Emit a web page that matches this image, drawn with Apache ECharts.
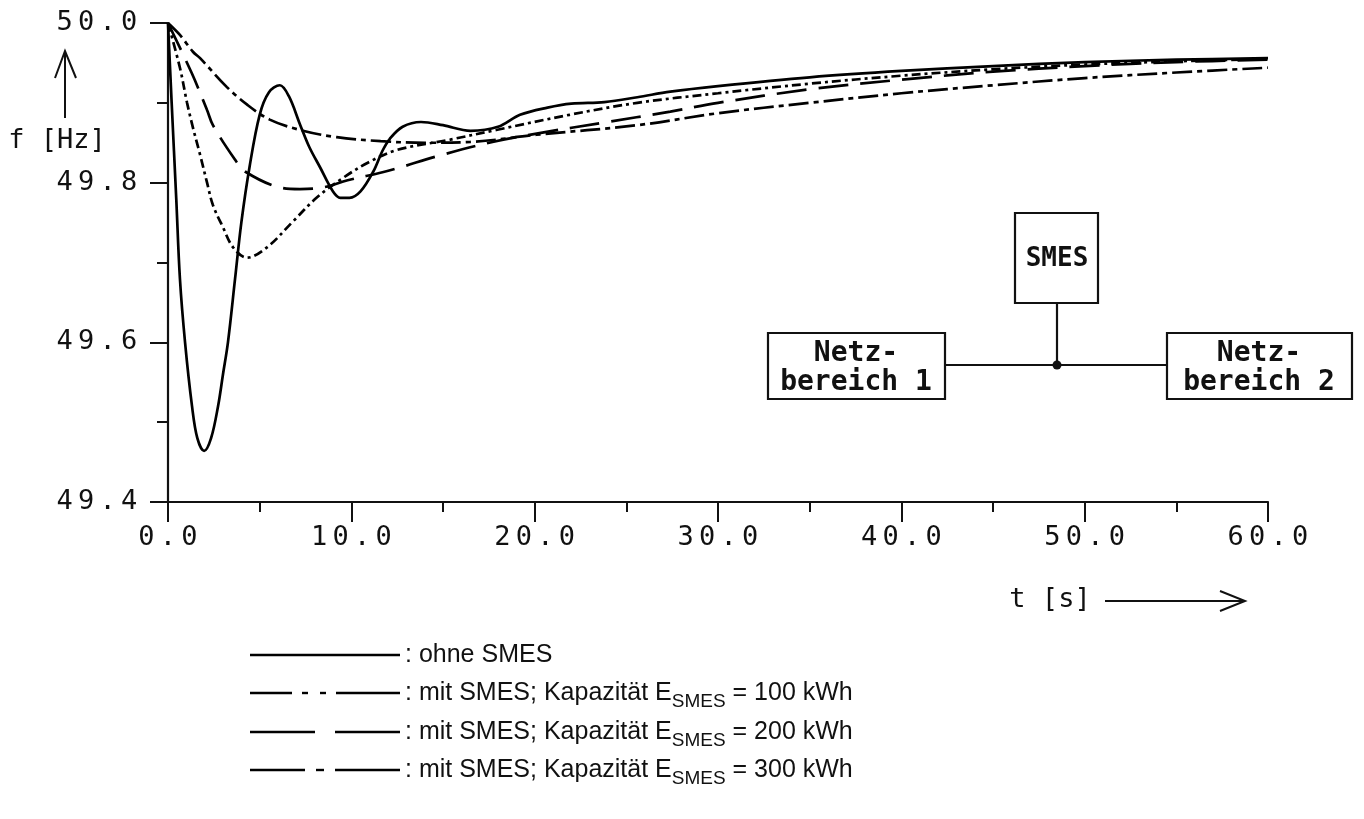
<!DOCTYPE html>
<html><head><meta charset="utf-8">
<script src="https://cdn.jsdelivr.net/npm/echarts@6/dist/echarts.min.js"></script>
<style>html,body{margin:0;padding:0;background:#fff}#c{width:1364px;height:819px}</style>
</head><body><div id="c"></div>
<script>
// ---- data ----
const tOhne = [0, 0.2, 0.45, 0.65, 0.93, 1.31, 1.6, 1.97, 2.35, 2.73, 3.0, 3.27, 3.66, 4.0, 4.45, 5.0, 5.5, 6.1, 6.6, 7.2, 7.7, 8.3, 9.0, 9.4, 9.9, 10.5, 11.2, 11.7, 12.1, 12.8, 13.8, 15.0, 16.5, 18.0, 19.2, 20.7, 22.0, 23.8, 25.6, 27.4, 30, 35, 40, 45, 50, 55, 60];
const fOhne = [50.0, 49.90, 49.78, 49.68, 49.60, 49.52, 49.48, 49.464, 49.48, 49.52, 49.56, 49.60, 49.68, 49.75, 49.82, 49.885, 49.913, 49.922, 49.908, 49.873, 49.845, 49.819, 49.789, 49.781, 49.781, 49.789, 49.814, 49.84, 49.855, 49.87, 49.876, 49.872, 49.865, 49.87, 49.885, 49.894, 49.899, 49.901, 49.907, 49.914, 49.921, 49.932, 49.940, 49.946, 49.951, 49.954, 49.956];

const t100 = [0, 0.65, 1.04, 1.36, 1.75, 2.13, 2.45, 3.0, 3.55, 4.3, 5.4, 6.8, 8.1, 9.55, 10.9, 12.5, 15.4, 17.9, 21.9, 25.6, 30, 35, 40, 45, 50, 55, 60];
const f100 = [50.0, 49.944, 49.90, 49.869, 49.835, 49.80, 49.772, 49.744, 49.719, 49.706, 49.719, 49.751, 49.781, 49.806, 49.825, 49.841, 49.854, 49.866, 49.885, 49.90, 49.912, 49.924, 49.934, 49.942, 49.948, 49.952, 49.955];

const t200 = [0, 1.3, 2.13, 2.45, 3.65, 4.2, 6.1, 7.2, 8.45, 9.8, 11.7, 12.8, 14.5, 17.7, 20.5, 23.7, 27.4, 30, 35, 40, 45, 50, 55, 60];
const f200 = [50.0, 49.937, 49.891, 49.872, 49.829, 49.814, 49.794, 49.792, 49.794, 49.803, 49.813, 49.82, 49.832, 49.851, 49.863, 49.875, 49.889, 49.90, 49.917, 49.929, 49.939, 49.946, 49.951, 49.954];

const t300 = [0, 0.65, 1.36, 1.75, 3.2, 4.3, 5.55, 7.2, 9.2, 11.6, 14.0, 16.5, 20.1, 25.6, 30, 35, 40, 45, 50, 55, 60];
const f300 = [50.0, 49.985, 49.964, 49.956, 49.92, 49.898, 49.879, 49.866, 49.857, 49.852, 49.850, 49.851, 49.86, 49.872, 49.887, 49.90, 49.912, 49.922, 49.931, 49.938, 49.944];

const yTickLabels = ['49.4', '49.6', '49.8', '50.0'];
const xTickLabels = ['0.0', '10.0', '20.0', '30.0', '40.0', '50.0', '60.0'];
const legendTexts = ['ohne SMES', 'mit SMES; Kapazität E', 'mit SMES; Kapazität E', 'mit SMES; Kapazität E'];
const legendSub = 'SMES';
const legendCaps = ['', '100 kWh', '200 kWh', '300 kWh'];
const seriesNames = ['ohne SMES', '100 kWh', '200 kWh', '300 kWh'];

// ---- chart ----
const chart = echarts.init(document.getElementById('c'), null, {renderer: 'canvas'});
const zip = (t, f) => t.map((v, i) => [v, f[i]]);
function spaced(s) { return s.split('').map(c => '{d|' + c + '}').join(''); }
const monoRich = { d: { width: 21.5, align: 'center', fontFamily: 'DejaVu Sans Mono', fontSize: 27, color: '#111' } };

const lineBase = { color: '#000', width: 2.7 };
const dashes = [null, [9, 4, 3, 4], [30, 12], [20, 5, 5, 5]];
const datasets = [zip(tOhne, fOhne), zip(t100, f100), zip(t200, f200), zip(t300, f300)];

const series = datasets.map((d, i) => ({
  name: seriesNames[i], type: 'line', data: d, showSymbol: false, smooth: 0.35,
  lineStyle: Object.assign({}, lineBase, { type: dashes[i] || 'solid' }),
  emphasis: { disabled: true }, silent: true, z: 3
}));

// legend graphics
const legY = [655, 693, 732, 770];
const legSegs = [
  [[250, 400]],
  [[250, 292], [302, 308], [320, 326], [336, 400]],
  [[250, 315], [335, 400]],
  [[250, 305], [316, 324], [335, 400]]
];
const graphics = [];
legSegs.forEach((segs, r) => {
  segs.forEach(s => graphics.push({ type: 'line', shape: { x1: s[0], y1: legY[r], x2: s[1], y2: legY[r] }, style: { stroke: '#000', lineWidth: 2.4 } }));
  const txt = r === 0 ? '{a|: ' + legendTexts[r] + '}' : '{a|: ' + legendTexts[r] + '}{s|' + legendSub + '}{a| = ' + legendCaps[r] + '}';
  graphics.push({ type: 'text', x: 405, y: legY[r], style: { text: txt, x: 0, y: 0, align: 'left', verticalAlign: 'middle', textAlign: 'left', textVerticalAlign: 'middle',
    rich: { a: { fontFamily: 'Liberation Sans', fontSize: 25, lineHeight: 36, fill: '#111', color: '#111' },
            s: { fontFamily: 'Liberation Sans', fontSize: 19, lineHeight: 14, verticalAlign: 'bottom', fill: '#111', color: '#111' } } } });
});

// axis titles and arrows
graphics.push({ type: 'text', x: 57, y: 141, style: { text: 'f [Hz]', align: 'center', verticalAlign: 'middle', textAlign: 'center', textVerticalAlign: 'middle', font: '27px "DejaVu Sans Mono"', fill: '#111' } });
graphics.push({ type: 'line', shape: { x1: 65, y1: 118, x2: 65, y2: 51 }, style: { stroke: '#111', lineWidth: 2 } });
graphics.push({ type: 'polyline', shape: { points: [[55, 78], [65, 51], [76, 78]] }, style: { stroke: '#111', lineWidth: 2, fill: null } });
graphics.push({ type: 'text', x: 1050, y: 600, style: { text: 't [s]', align: 'center', verticalAlign: 'middle', textAlign: 'center', textVerticalAlign: 'middle', font: '27px "DejaVu Sans Mono"', fill: '#111' } });
graphics.push({ type: 'line', shape: { x1: 1105, y1: 601, x2: 1245, y2: 601 }, style: { stroke: '#111', lineWidth: 2 } });
graphics.push({ type: 'polyline', shape: { points: [[1220, 591], [1245, 601], [1220, 611]] }, style: { stroke: '#111', lineWidth: 2, fill: null } });

// network diagram
const boxStyle = { stroke: '#111', lineWidth: 2.2, fill: '#fff' };
graphics.push({ type: 'line', shape: { x1: 945, y1: 365, x2: 1167, y2: 365 }, style: { stroke: '#111', lineWidth: 2.2 } });
graphics.push({ type: 'line', shape: { x1: 1057, y1: 303, x2: 1057, y2: 365 }, style: { stroke: '#111', lineWidth: 2.2 } });
graphics.push({ type: 'circle', shape: { cx: 1057, cy: 365, r: 4.5 }, style: { fill: '#111' } });
graphics.push({ type: 'rect', shape: { x: 1015, y: 213, width: 83, height: 90 }, style: boxStyle });
graphics.push({ type: 'rect', shape: { x: 768, y: 333, width: 177, height: 66 }, style: boxStyle });
graphics.push({ type: 'rect', shape: { x: 1167, y: 333, width: 185, height: 66 }, style: boxStyle });
const boxFont = 'bold 28px "DejaVu Sans Mono"';
graphics.push({ type: 'text', x: 1057, y: 259, style: { text: 'SMES', align: 'center', verticalAlign: 'middle', textAlign: 'center', textVerticalAlign: 'middle', font: 'bold 26px "DejaVu Sans Mono"', fill: '#111' }, z: 10 });
graphics.push({ type: 'text', x: 856, y: 368, style: { text: 'Netz-\nbereich 1', align: 'center', verticalAlign: 'middle', textAlign: 'center', textVerticalAlign: 'middle', font: boxFont, lineHeight: 29, fill: '#111' }, z: 10 });
graphics.push({ type: 'text', x: 1259, y: 368, style: { text: 'Netz-\nbereich 2', align: 'center', verticalAlign: 'middle', textAlign: 'center', textVerticalAlign: 'middle', font: boxFont, lineHeight: 29, fill: '#111' }, z: 10 });

const option = {
  backgroundColor: '#fff',
  animation: false,
  grid: { left: 168, top: 23, width: 1100, height: 479, containLabel: false },
  xAxis: {
    type: 'value', min: 0, max: 60, interval: 10,
    axisLine: { show: true, onZero: false, lineStyle: { color: '#111', width: 2.2 } },
    axisTick: { show: true, inside: false, length: 20, lineStyle: { color: '#111', width: 2 } },
    minorTick: { show: true, splitNumber: 2, length: 10, lineStyle: { color: '#111', width: 2 } },
    splitLine: { show: false }, minorSplitLine: { show: false },
    axisLabel: { show: true, margin: 22, showMinLabel: true, showMaxLabel: true, hideOverlap: false,
      formatter: v => { const i = Math.round(v / 10); return xTickLabels[i] !== undefined ? spaced(xTickLabels[i]) : ''; },
      rich: monoRich }
  },
  yAxis: {
    type: 'value', min: 49.4, max: 50.0, interval: 0.2,
    axisLine: { show: true, onZero: false, lineStyle: { color: '#111', width: 2.2 } },
    axisTick: { show: true, inside: false, length: 18, lineStyle: { color: '#111', width: 2 } },
    minorTick: { show: true, splitNumber: 2, length: 11, lineStyle: { color: '#111', width: 2 } },
    splitLine: { show: false }, minorSplitLine: { show: false },
    axisLabel: { show: true, margin: 28, showMinLabel: true, showMaxLabel: true, hideOverlap: false,
      formatter: v => { const i = Math.round((v - 49.4) / 0.2); return yTickLabels[i] !== undefined ? spaced(yTickLabels[i]) : ''; },
      rich: monoRich }
  },
  series: series,
  graphic: { elements: graphics }
};
chart.setOption(option);
</script>
</body></html>
